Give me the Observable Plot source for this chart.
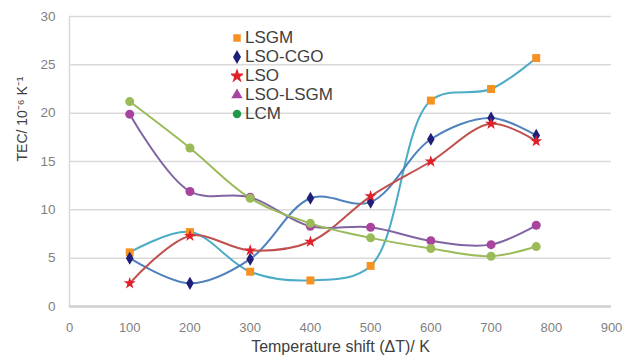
<!DOCTYPE html>
<html><head><meta charset="utf-8">
<script src="https://cdn.jsdelivr.net/npm/d3@7"></script>
<script src="https://cdn.jsdelivr.net/npm/@observablehq/plot@0.6"></script>
<style>
body{margin:0;background:#fff;font-family:"Liberation Sans",Arial,sans-serif;}
#wrap{position:relative;width:629px;height:362px;}
#legend{position:absolute;left:231px;top:28px;font-size:17px;color:#404040;line-height:19px;}
#legend div{display:flex;align-items:center;height:19px;}
#legend svg{margin-right:2px;}
</style></head>
<body><div id="wrap"></div>
<script>
const xs = [100, 200, 300, 400, 500, 600, 700, 775];
const seriesNames = ["LSGM", "LSO-CGO", "LSO", "LSO-LSGM", "LCM"];
const LSGM    = [5.6, 7.7, 3.6, 2.7, 4.2, 21.3, 22.5, 25.7];
const LSO_CGO = [5.0, 2.4, 4.9, 11.2, 10.8, 17.3, 19.5, 17.7];
const LSO     = [2.4, 7.3, 5.8, 6.7, 11.4, 15.0, 18.9, 17.1];
const LSO_LSGM= [19.9, 11.9, 11.3, 8.3, 8.2, 6.8, 6.4, 8.4];
const LCM     = [21.2, 16.4, 11.2, 8.6, 7.1, 6.0, 5.2, 6.2];
const xTicks = [0,100,200,300,400,500,600,700,800,900];
const yTicks = [0,5,10,15,20,25,30];

const values = [LSGM, LSO_CGO, LSO, LSO_LSGM, LCM];
const lineColors = ["#4BACC6", "#4F81BD", "#C0504D", "#8064A2", "#9BBB59"];
const markColors = ["#F59222", "#1F1F7A", "#E0202A", "#A8449E", "#9BBB59"];
const symbols = ["square", "diamond", "star", "circle", "circle"];
const legendSymbols = ["square", "diamond", "star", "triangle", "circle"];
const legendColors = ["#F59222", "#1F1F7A", "#E0202A", "#A8449E", "#1E9A4A"];
const markR = [4.5, 4, 3.8, 4.5, 4.5];

const marks = [
  Plot.gridY(yTicks, {stroke: "#D9D9D9", strokeOpacity: 1, strokeWidth: 1.5}),
  Plot.ruleX([0], {stroke: "#D9D9D9", strokeWidth: 1.5}),
  Plot.ruleY([0], {stroke: "#D0D0D0", strokeWidth: 2.5}),
  Plot.axisX(xTicks, {tickSize: 0, tickPadding: 16, fontSize: 13, color: "#7F7F7F", label: null}),
  Plot.axisY(yTicks, {tickSize: 0, tickPadding: 14, fontSize: 13.5, color: "#7F7F7F", label: null})
];
seriesNames.forEach((name, i) => {
  const data = xs.map((x, j) => ({x, y: values[i][j]}));
  marks.push(Plot.line(data, {x: "x", y: "y", stroke: lineColors[i], strokeWidth: 2, curve: "catmull-rom"}));
});
seriesNames.forEach((name, i) => {
  const data = xs.map((x, j) => ({x, y: values[i][j]}));
  marks.push(Plot.dot(data, {x: "x", y: "y", symbol: symbols[i], fill: markColors[i], r: markR[i], stroke: "none"}));
});

const chart = Plot.plot({
  width: 629, height: 362,
  marginLeft: 69, marginRight: 18, marginTop: 16, marginBottom: 56,
  x: {domain: [0, 900]},
  y: {domain: [0, 30]},
  style: {fontFamily: "Liberation Sans, Arial, sans-serif"},
  marks: [
    ...marks,
    Plot.text(["Temperature shift (ΔT)/ K"], {frameAnchor: "bottom", dy: 45, fontSize: 16, fill: "#404040"}),
    Plot.text(["TEC/ 10⁻⁶ K⁻¹"], {frameAnchor: "left", dx: -47, rotate: -90, fontSize: 14, fill: "#404040"})
  ]
});
const wrap = document.getElementById("wrap");
wrap.appendChild(chart);

const legend = document.createElement("div");
legend.id = "legend";
seriesNames.forEach((name, i) => {
  const row = document.createElement("div");
  const s = d3.create("svg").attr("width", 12).attr("height", 14);
  const sym = {square: d3.symbolSquare, diamond: d3.symbolDiamond, star: d3.symbolStar, triangle: d3.symbolTriangle, circle: d3.symbolCircle}[legendSymbols[i]];
  s.append("path").attr("transform", "translate(6,7)").attr("d", d3.symbol(sym, legendSymbols[i] === "star" ? 70 : 56)()).attr("fill", legendColors[i]);
  row.appendChild(s.node());
  row.appendChild(document.createTextNode(name));
  legend.appendChild(row);
});
wrap.appendChild(legend);
</script></body></html>
